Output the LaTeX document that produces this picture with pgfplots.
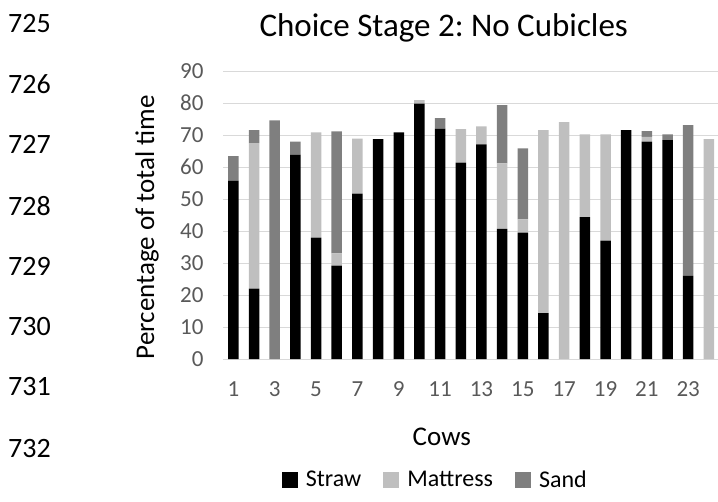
\documentclass[border=0pt]{standalone}
\usepackage{pgfplots}
\usepackage{pgfplotstable}
\pgfplotsset{compat=1.18}
\usepackage{fontspec}
\setmainfont{Carlito}
\frenchspacing
\definecolor{cstraw}{HTML}{000000}
\definecolor{cmatt}{HTML}{BFBFBF}
\definecolor{csand}{HTML}{7F7F7F}
\definecolor{cgrid}{HTML}{D9D9D9}
\definecolor{ctick}{HTML}{595959}
\pgfplotstableread{
cow straw mattress sand
1 55.7 0 7.7
2 22.0 45.5 4.0
3 0 0 74.6
4 63.9 0 4.0
5 37.9 32.9 0
6 29.2 3.8 38.1
7 51.7 17.2 0
8 68.7 0 0
9 70.8 0 0
10 79.8 1.1 0
11 72.0 0 3.3
12 61.4 10.4 0
13 67.1 5.6 0
14 40.7 20.4 18.2
15 39.5 4.1 22.2
16 14.3 57.2 0
17 0 74.0 0
18 44.3 25.9 0
19 37.0 33.2 0
20 71.5 0 0
21 67.9 1.5 1.8
22 68.4 0 1.8
23 26.0 0 47.1
24 0 68.7 0
}\data
\begin{document}
\begin{tikzpicture}[x=1pt,y=1pt]
\useasboundingbox (0,0) rectangle (718,501);
\foreach \n/\yy in {725/477,726/417,727/357,728/295,729/235,730/174,731/114,732/52}{
  \node[anchor=west, inner sep=0pt, font=\fontsize{28}{28}\selectfont] at (8,\yy) {\n};
}
\begin{axis}[
  at={(223pt,142pt)}, anchor=south west,
  scale only axis, width=495pt, height=288pt,
  ybar stacked, bar width=10.5pt,
  xmin=0.5, xmax=24.44, ymin=0, ymax=90,
  xtick={1,3,...,23}, ytick={0,10,...,90},
  major tick length=0pt,
  /pgf/number format/assume math mode=true,
  tick label style={font=\fontsize{23}{23}\selectfont, text=ctick},
  yticklabel style={anchor=east, xshift=-16pt},
  xticklabel style={anchor=center, yshift=-30pt},
  ymajorgrids, grid style={cgrid, line width=1pt},
  axis lines*=left,
  y axis line style={draw=none},
  x axis line style={draw=cgrid, line width=1pt},
  ylabel={Percentage of total time},
  ylabel style={at={(axis description cs:-0.1535,0.458)}, anchor=center, rotate=0, font=\fontsize{27}{27}\selectfont},
  xlabel={Cows},
  xlabel style={at={(axis description cs:0.442,-0.271)}, anchor=center, font=\fontsize{27}{27}\selectfont},
  title={Choice Stage 2: No Cubicles},
  title style={at={(axis description cs:0.446,1.128)}, anchor=center, font=\fontsize{33}{33}\selectfont},
  legend columns=3,
  legend style={at={(axis description cs:0.429,-0.42)}, anchor=center, draw=none, fill=none,
    font=\fontsize{24}{24}\selectfont,
    /tikz/every odd column/.append style={column sep=6pt},
    /tikz/every even column/.append style={column sep=20pt}},
  legend image code/.code={\fill[#1] (0pt,-8pt) rectangle (16pt,8pt);},
]
\addplot[fill=cstraw, draw=none] table[x=cow, y=straw]{\data};
\addplot[fill=cmatt, draw=none] table[x=cow, y=mattress]{\data};
\addplot[fill=csand, draw=none] table[x=cow, y=sand]{\data};
\legend{Straw, Mattress, Sand}
\end{axis}
\end{tikzpicture}
\end{document}
